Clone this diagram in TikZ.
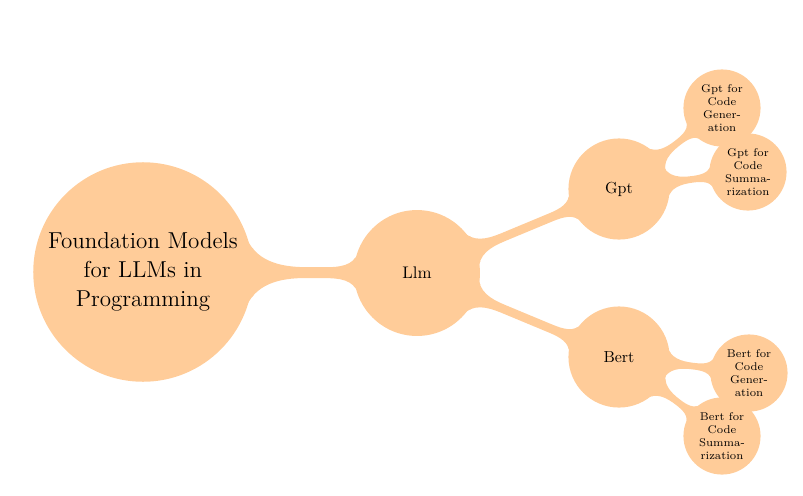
\documentclass[tikz,border=0pt]{standalone}
\usetikzlibrary{mindmap}
\begin{document}
\begin{tikzpicture}[x=0.625pt,y=-0.625pt, mindmap, concept color=orange!40,
  rootc/.style={concept, minimum size=136pt, text width={}, align=center, inner sep=0pt, font=\Large},
  lvla/.style={concept, minimum size=77.5pt, text width={}, align=center, font=\fontsize{10.5}{12.5}\selectfont},
  lvlb/.style={concept, minimum size=62pt, text width={}, align=center, font=\normalsize},
  lvlc/.style={concept, minimum size=47pt, text width={}, align=center, font=\scriptsize},
  bar/.style={circle connection bar switch color=from (orange!40) to (orange!40)}]
\useasboundingbox (0,0) rectangle (803,495);
\node[rootc] (root) at (143,272) {Foundation Models\\for LLMs in\\Programming};
\node[lvla] (llm) at (417,273) {Llm};
\node[lvlb] (gpt) at (619,189) {Gpt};
\node[lvlb] (bert) at (619,357) {Bert};
\node[lvlc] (gptgen) at (722,108) {Gpt for\\Code\\Gener-\\ation};
\node[lvlc] (gptsum) at (748,172) {Gpt for\\Code\\Summa-\\rization};
\node[lvlc] (bertgen) at (749,373) {Bert for\\Code\\Gener-\\ation};
\node[lvlc] (bertsum) at (722,436) {Bert for\\Code\\Summa-\\rization};
\path[line width=7pt] (root) to[bar] (llm);
\path[line width=6pt] (llm) to[bar] (gpt);
\path[line width=6pt] (llm) to[bar] (bert);
\path[line width=4.5pt] (gpt) to[bar] (gptgen);
\path[line width=4.5pt] (gpt) to[bar] (gptsum);
\path[line width=4.5pt] (bert) to[bar] (bertgen);
\path[line width=4.5pt] (bert) to[bar] (bertsum);
\end{tikzpicture}
\end{document}
